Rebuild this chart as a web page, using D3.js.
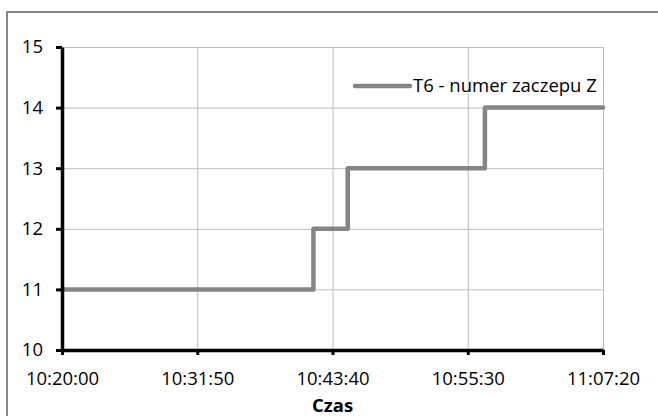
<!DOCTYPE html>
<html>
<head>
<meta charset="utf-8">
<script src="https://cdn.jsdelivr.net/npm/d3@7"></script>
<style>
  body { margin: 0; background: #fff; }
  svg text { font-family: "Open Sans", sans-serif; fill: #000; }
</style>
</head>
<body>
<svg id="chart"></svg>
<script>
// series: T6 tap position over time
const times = ["10:20:00", "10:42:00", "10:45:00", "10:57:00", "11:07:20"];
const values = [11, 12, 13, 14, 14];

const xTickLabels = ["10:20:00", "10:31:50", "10:43:40", "10:55:30", "11:07:20"];
const yTicks = [10, 11, 12, 13, 14, 15];
const seriesName = "T6 - numer zaczepu Z";
const xTitle = "Czas";

const width = 658, height = 416;
const margin = {left: 62, right: 55, top: 47, bottom: 66};
const lineColor = "#858585";
const fontSize = '18.5px';

const parseTime = d3.timeParse("%H:%M:%S");
const data = times.map((t, i) => ({t: parseTime(t), v: values[i]}));
const xTickDates = xTickLabels.map(parseTime);

const svg = d3.select('svg#chart')
    .attr('width', width)
    .attr('height', height);

// outer chart border (runs off the right and bottom edge)
svg.append('rect')
    .attr('x', 7).attr('y', 12)
    .attr('width', width + 10).attr('height', height + 10)
    .attr('fill', 'none')
    .attr('stroke', '#868686')
    .attr('stroke-width', 2);

const x = d3.scaleTime()
    .domain([xTickDates[0], xTickDates[xTickDates.length - 1]])
    .range([margin.left, width - margin.right]);

const y = d3.scaleLinear()
    .domain([10, 15])
    .range([height - margin.bottom, margin.top]);

// gridlines
svg.append('g').selectAll('line.hgrid')
    .data(yTicks)
    .join('line')
    .attr('class', 'hgrid')
    .attr('x1', x.range()[0]).attr('x2', x.range()[1])
    .attr('y1', d => y(d) + 0.5).attr('y2', d => y(d) + 0.5)
    .attr('stroke', '#bdbdbd').attr('stroke-width', 1);

svg.append('g').selectAll('line.vgrid')
    .data(xTickDates)
    .join('line')
    .attr('class', 'vgrid')
    .attr('x1', d => x(d) + 0.5).attr('x2', d => x(d) + 0.5)
    .attr('y1', y.range()[0]).attr('y2', y.range()[1])
    .attr('stroke', '#bdbdbd').attr('stroke-width', 1);

// step line
const line = d3.line()
    .x(d => x(d.t))
    .y(d => y(d.v))
    .curve(d3.curveStepAfter);

svg.append('path')
    .datum(data)
    .attr('d', line)
    .attr('fill', 'none')
    .attr('stroke', lineColor)
    .attr('stroke-width', 4.5)
    .attr('stroke-linejoin', 'round')
    .attr('stroke-linecap', 'round');

// axes
const yAxis = d3.axisLeft(y)
    .tickValues(yTicks)
    .tickFormat(d3.format('d'))
    .tickSizeInner(6)
    .tickSizeOuter(0)
    .tickPadding(13);

const xAxis = d3.axisBottom(x)
    .tickValues(xTickDates)
    .tickFormat((d, i) => xTickLabels[i])
    .tickSizeInner(5)
    .tickSizeOuter(0)
    .tickPadding(17);

const gy = svg.append('g')
    .attr('transform', `translate(${margin.left},0)`)
    .call(yAxis);

const gx = svg.append('g')
    .attr('transform', `translate(0,${height - margin.bottom})`)
    .call(xAxis);

[gy, gx].forEach(g => {
    g.select('.domain').attr('stroke', '#000').attr('stroke-width', 3.5);
    g.selectAll('.tick line').attr('stroke', '#000').attr('stroke-width', 3);
    g.selectAll('.tick text')
        .attr('fill', '#000')
        .style('font-size', fontSize)
        .style('font-family', '"Open Sans", sans-serif');
});

svg.append('text')
    .attr('x', x(xTickDates[2]))
    .attr('y', 412)
    .attr('text-anchor', 'middle')
    .style('font-size', fontSize)
    .style('font-weight', 'bold')
    .text(xTitle);

// legend
const lg = svg.append('g').attr('transform', 'translate(355,86)');
lg.append('line')
    .attr('x1', 0).attr('x2', 55)
    .attr('stroke', lineColor)
    .attr('stroke-width', 4.5)
    .attr('stroke-linecap', 'round');
lg.append('text')
    .attr('x', 58)
    .attr('dy', '0.35em')
    .style('font-size', fontSize)
    .text(seriesName);
</script>
</body>
</html>
